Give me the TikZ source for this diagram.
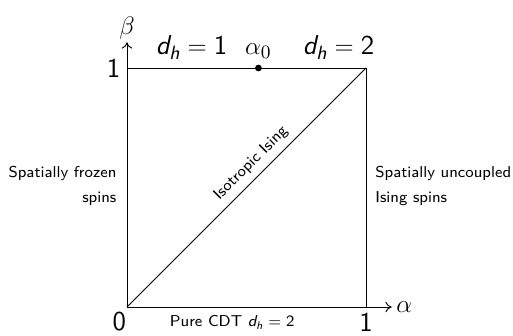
\documentclass[tikz,border=0pt]{standalone}
\usepackage{amsmath}
\usepackage{fontspec}
\usepackage{tikz}
\usetikzlibrary{positioning,arrows.meta}
\tikzset{
  axis/.style={-{To[length=3pt,width=5pt]},line width=0.45pt},
  edge/.style={line width=0.45pt},
  biglbl/.style={font=\fontsize{13}{15}\selectfont\sffamily,inner sep=1pt},
  smalllbl/.style={font=\fontsize{7.5}{9}\selectfont\sffamily,inner sep=0pt},
  ptdot/.style={circle,fill=black,inner sep=0pt,minimum size=3.2pt},
}
\newcommand{\dhsf}{\textit{d}_{\textit{h}}}

\begin{document}
\begin{tikzpicture}[font=\fontsize{13}{15}\selectfont\sffamily]
  \useasboundingbox (-2.125,-0.469) rectangle (6.46,5.138);
  % corners of the unit square and axis ends
  \coordinate (O) at (0,0);
  \coordinate (A) at (4,0);
  \coordinate (B) at (0,4);
  \coordinate (C) at (4,4);
  \coordinate (xend) at (4.43,0);
  \coordinate (yend) at (0,4.43);
  \coordinate (mL) at (0,2.03);
  \coordinate (mR) at (4,2.03);

  \draw[axis] (O) -- (xend) node[right,inner sep=2pt] (alab) {$\alpha$};
  \draw[axis] (O) -- (yend) node[above,inner sep=1pt] (blab) {$\beta$};
  \draw[edge] (B) -- (C) -- (A);
  \draw[edge] (O) -- (C) node[smalllbl,pos=0.56,sloped,above=3pt] (iso) {Isotropic Ising};

  % point on the upper edge
  \node[ptdot] (a0) at (2.2,4) {};
  \node[biglbl,anchor=base] (a0lab) at (2.2,4.22) {$\alpha_0$};
  \node[biglbl,anchor=base] (dh1) at (1.08,4.22) {$\dhsf = \text{1}$};
  \node[biglbl,anchor=base] (dh2) at (3.54,4.22) {$\dhsf = \text{2}$};

  % tick values
  \node[biglbl,left=2pt of B] (oney) {1};
  \node[biglbl] (zero) at (-0.13,-0.25) {0};
  \node[biglbl] (onex) at (4,-0.25) {1};
  \node[smalllbl,anchor=base] (cdt) at (1.76,-0.33) {Pure CDT $\dhsf = \text{2}$};

  % regimes on the sides
  \node[smalllbl,align=right,left=1.7mm of mL] (frozen) {Spatially frozen\\[3pt]spins};
  \node[smalllbl,align=left,right=1.5mm of mR] (uncpl) {Spatially uncoupled\\[3pt]Ising spins};
\end{tikzpicture}
\end{document}
